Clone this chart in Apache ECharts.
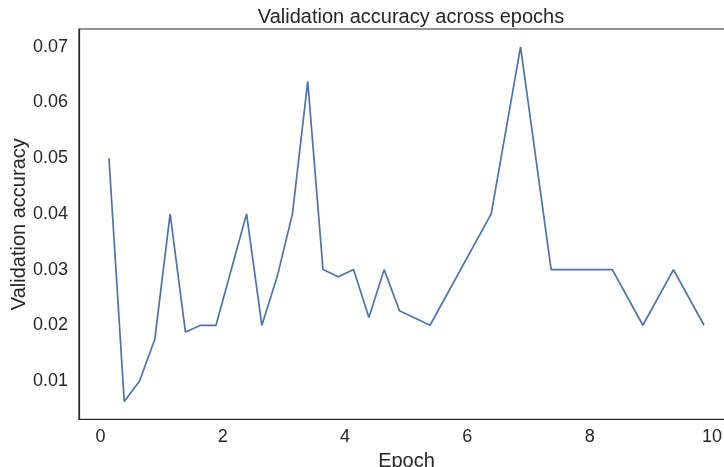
<!DOCTYPE html>
<html>
<head>
<meta charset="utf-8">
<script src="https://cdn.jsdelivr.net/npm/echarts@6/dist/echarts.min.js"></script>
<style>
html,body{margin:0;padding:0;background:#fff;}
#chart{width:724px;height:467px;}
</style>
</head>
<body>
<div id="chart"></div>
<script>
var epochs = [0.14, 0.39, 0.64, 0.89, 1.14, 1.39, 1.64, 1.89, 2.14, 2.39, 2.64, 2.89, 3.14, 3.39, 3.64, 3.89, 4.14, 4.39, 4.64, 4.89, 5.39, 6.39, 6.87, 7.37, 8.37, 8.87, 9.37, 9.87];
var accuracy = [0.050, 0.0063, 0.010, 0.0175, 0.040, 0.0188, 0.020, 0.020, 0.030, 0.040, 0.020, 0.0287, 0.040, 0.0638, 0.030, 0.0287, 0.030, 0.0214, 0.030, 0.0226, 0.020, 0.040, 0.070, 0.030, 0.030, 0.020, 0.030, 0.020];

var txt = '#262626';
var font = 'Liberation Sans, Arial, sans-serif';
var chart = echarts.init(document.getElementById('chart'), null, {renderer: 'canvas'});
chart.setOption({
  animation: false,
  backgroundColor: '#ffffff',
  title: {
    text: 'Validation accuracy across epochs',
    left: 406, top: 2, textAlign: 'center',
    textStyle: {fontFamily: font, fontSize: 20, fontWeight: 'normal', color: txt}
  },
  grid: {left: 79, top: 29, width: 655, height: 390.4, containLabel: false, outerBoundsMode: 'none',
    show: true, borderColor: '#262626', borderWidth: 1.2},
  xAxis: {
    type: 'value', min: -0.35, max: 10.36, minInterval: 2, maxInterval: 2,
    name: 'Epoch', nameLocation: 'middle', nameGap: 32, nameMoveOverlap: false,
    nameTextStyle: {fontFamily: font, fontSize: 20, color: txt},
    axisLine: {show: true, onZero: false, lineStyle: {color: '#262626', width: 1.2}},
    axisTick: {show: false},
    splitLine: {show: false},
    axisLabel: {fontFamily: font, fontSize: 18, color: txt, margin: 9, showMinLabel: false, showMaxLabel: false,
      formatter: function (v) { return String(Math.round(v)); }}
  },
  yAxis: {
    type: 'value', min: 0.0031, max: 0.0732, minInterval: 0.01, maxInterval: 0.01,
    name: 'Validation accuracy', nameLocation: 'middle', nameGap: 50, nameMoveOverlap: false,
    nameTextStyle: {fontFamily: font, fontSize: 20, color: txt},
    axisLine: {show: true, onZero: false, lineStyle: {color: '#262626', width: 1.2}},
    axisTick: {show: false},
    splitLine: {show: false},
    axisLabel: {fontFamily: font, fontSize: 18, color: txt, margin: 11, showMinLabel: false, showMaxLabel: false,
      formatter: function (v) { return v.toFixed(2); }}
  },
  series: [{
    type: 'line',
    data: epochs.map(function (e, i) { return [e, accuracy[i]]; }),
    showSymbol: false,
    lineStyle: {color: '#4c72b0', width: 1.7},
    itemStyle: {color: '#4c72b0'}
  }]
});
</script>
</body>
</html>
